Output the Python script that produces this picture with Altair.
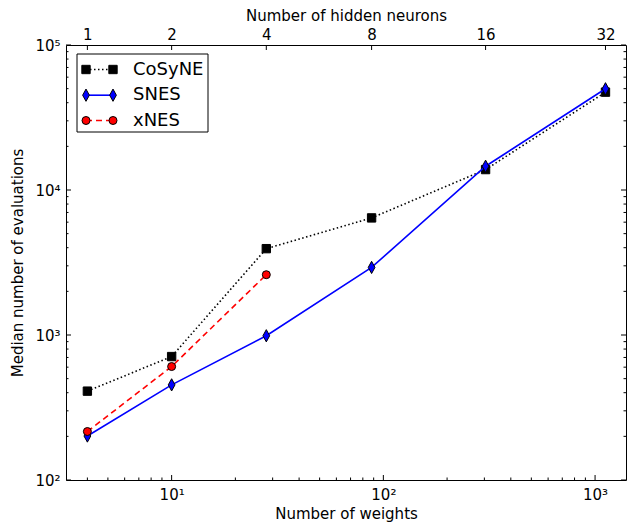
import altair as alt
import pandas as pd

# ---------------- data ----------------
weights = [4, 10, 28, 88, 304, 1120]
neurons = [1, 2, 4, 8, 16, 32]
cosyne = [410, 710, 3940, 6420, 13830, 47300]
snes = [201, 453, 988, 2925, 14580, 49900]
xnes_weights = [4, 10, 28]
xnes = [216, 606, 2605]

x_major = [10, 100, 1000]
x_major_labels = ["10\u00b9", "10\u00b2", "10\u00b3"]
y_major = [100, 1000, 10000, 100000]
y_major_labels = ["10\u00b2", "10\u00b3", "10\u2074", "10\u2075"]

X_DOMAIN = [3.17, 1400]
Y_DOMAIN = [100, 100000]

x_minor = [m * 10 ** k for k in range(0, 4) for m in range(2, 10)
           if X_DOMAIN[0] <= m * 10 ** k <= X_DOMAIN[1]]
y_minor = [m * 10 ** k for k in range(2, 5) for m in range(2, 10)]

W, H = 560, 435
FONT = "DejaVu Sans"

xscale = alt.Scale(type="log", domain=X_DOMAIN, nice=False)
yscale = alt.Scale(type="log", domain=Y_DOMAIN, nice=False)


def label_expr(values, labels):
    parts = [f"datum.value == {v} ? '{l}'" for v, l in zip(values, labels)]
    return " : ".join(parts) + " : ''"


axis_common = dict(
    ticks=False, domain=False, grid=False,
    labelFont=FONT, labelFontSize=15, labelColor="black",
    titleFont=FONT, titleFontSize=15, titleFontWeight="normal", titleColor="black",
)

bottom_axis = alt.Axis(orient="bottom", values=x_major,
                       labelExpr=label_expr(x_major, x_major_labels),
                       title="Number of weights", labelPadding=7, titlePadding=4,
                       **axis_common)
left_axis = alt.Axis(orient="left", values=y_major,
                     labelExpr=label_expr(y_major, y_major_labels),
                     title="Median number of evaluations", labelPadding=6, titlePadding=9,
                     **axis_common)
top_axis = alt.Axis(orient="top", values=weights,
                    labelExpr=label_expr(weights, [str(n) for n in neurons]),
                    title="Number of hidden neurons", labelPadding=3, titlePadding=4,
                    **axis_common)

layers = []

# axis carriers (invisible)
axes_df = pd.DataFrame({"w": weights, "v": cosyne})
layers.append(alt.Chart(axes_df).mark_point(opacity=0).encode(
    x=alt.X("w:Q", scale=xscale, axis=bottom_axis),
    y=alt.Y("v:Q", scale=yscale, axis=left_axis)))
layers.append(alt.Chart(axes_df).mark_point(opacity=0).encode(
    x=alt.X("w:Q", scale=xscale, axis=top_axis),
    y=alt.Y("v:Q", scale=yscale, axis=None)))


# inward ticks
def xticks(vals, y1, y2):
    return alt.Chart(pd.DataFrame({"w": vals})).mark_rule(color="black", strokeWidth=1).encode(
        x=alt.X("w:Q", scale=xscale, axis=None), y=alt.value(y1), y2=alt.value(y2))


def yticks(vals, x1, x2):
    return alt.Chart(pd.DataFrame({"v": vals})).mark_rule(color="black", strokeWidth=1).encode(
        y=alt.Y("v:Q", scale=yscale, axis=None), x=alt.value(x1), x2=alt.value(x2))


layers += [
    xticks(x_major, H, H - 5), xticks(x_minor, H, H - 2.5),
    xticks(weights, 0, 5),
    yticks(y_major, 0, 5), yticks(y_minor, 0, 2.5),
    yticks(y_major, W, W - 5), yticks(y_minor, W, W - 2.5),
]

DIAMOND = "M0,-1L0.55,0L0,1L-0.55,0Z"
series = [
    ("CoSyNE", weights, cosyne, "black", [1.5, 2.5], "square", 70, "black"),
    ("SNES", weights, snes, "blue", None, DIAMOND, 150, "blue"),
    ("xNES", xnes_weights, xnes, "red", [6, 4], "circle", 64, "red"),
]

for name, xs, ys, color, dash, shape, size, fill in series:
    df = pd.DataFrame({"w": xs, "v": ys})
    base = alt.Chart(df).encode(
        x=alt.X("w:Q", scale=xscale, axis=None),
        y=alt.Y("v:Q", scale=yscale, axis=None))
    line_kw = dict(color=color, strokeWidth=1.6)
    if dash:
        line_kw["strokeDash"] = dash
    layers.append(base.mark_line(**line_kw))
    layers.append(base.mark_point(shape=shape, size=size, filled=True, fill=fill,
                                  stroke="black", strokeWidth=1, opacity=1))

# legend
one = pd.DataFrame({"a": [0]})
layers.append(alt.Chart(one).mark_rect(fill="white", stroke="black", strokeWidth=1).encode(
    x=alt.value(11), x2=alt.value(142), y=alt.value(9), y2=alt.value(87)))
row_y = [24.5, 50.2, 75.5]
for (name, xs, ys, color, dash, shape, size, fill), ry in zip(series, row_y):
    d = pd.DataFrame({"m": [name]})
    line_kw = dict(color=color, strokeWidth=1.6)
    if dash:
        line_kw["strokeDash"] = dash
    layers.append(alt.Chart(d).mark_rule(**line_kw).encode(
        x=alt.value(20), x2=alt.value(47), y=alt.value(ry)))
    for px in (20, 47):
        layers.append(alt.Chart(d).mark_point(shape=shape, size=size, filled=True, fill=fill,
                                              stroke="black", strokeWidth=1, opacity=1).encode(
            x=alt.value(px), y=alt.value(ry)))
    layers.append(alt.Chart(d).mark_text(align="left", baseline="middle", font=FONT,
                                         fontSize=18, color="black").encode(
        x=alt.value(67), y=alt.value(ry), text="m:N"))

chart = alt.layer(*layers).resolve_axis(x="independent", y="independent").properties(
    width=W, height=H,
    autosize=alt.AutoSizeParams(type="none"),
    padding={"left": 58, "top": 37, "right": 4, "bottom": 45},
    background="white",
).configure_view(stroke="black", strokeWidth=1)

chart.save("out.html", embed_options={"renderer": "svg", "actions": False})
